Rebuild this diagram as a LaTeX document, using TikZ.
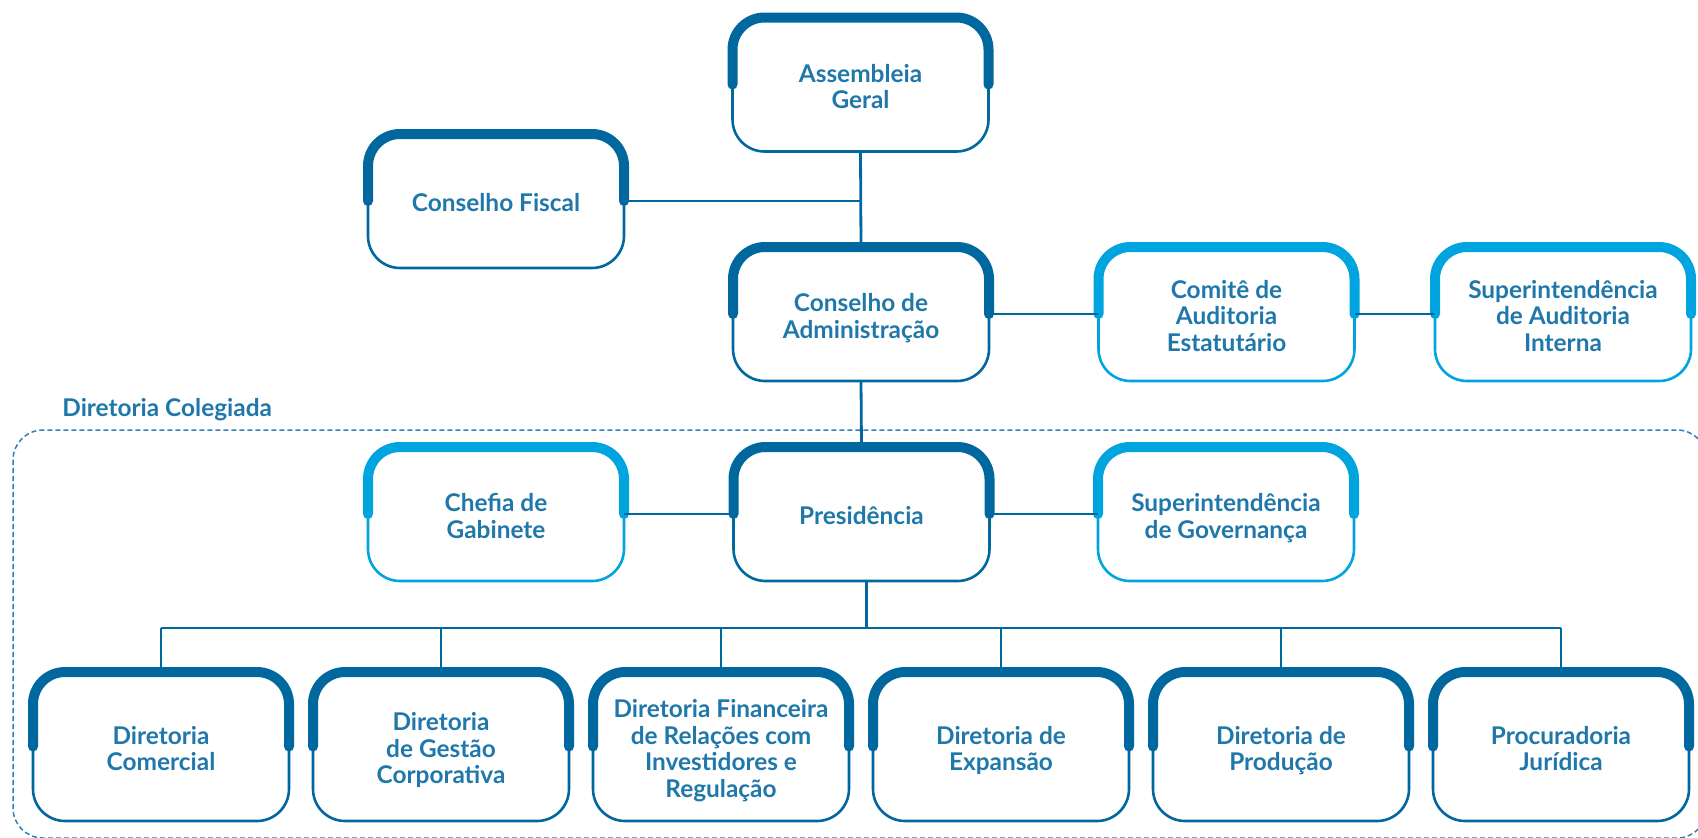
\documentclass[tikz,border=0pt]{standalone}
\usepackage{fontspec}
\setmainfont{Lato}
\usepackage{xcolor}
\usepackage{tikz}
\usetikzlibrary{calc, positioning}

\definecolor{orgdark}{HTML}{00689F}
\definecolor{orglight}{HTML}{00A5DF}
\definecolor{orgtext}{HTML}{1F77AA}
\definecolor{orgdash}{HTML}{2F80B8}

\begin{document}
\begin{tikzpicture}[x=0.5pt, y=-0.5pt,
        every node/.style={font=\fontsize{12.2}{13.3}\selectfont\bfseries, text=orgtext, align=center},
        unit/.style={draw=#1, line width=1.3pt, rounded corners=16pt, minimum width=128pt, minimum height=67pt, inner sep=0pt, outer sep=0pt},
        unit/.default=orgdark,
        tall/.style={minimum height=74.5pt},
        caption/.style={inner sep=0pt, text depth=3pt, yshift=-2.4pt},
        crown/.style={draw=#1, line width=5pt, line cap=round, rounded corners=16pt},
        link/.style={draw=orgdark, line width=1.4pt},
        colegiada/.style={draw=orgdash, line width=0.75pt, dash pattern=on 2.5pt off 1.5pt, rounded corners=15pt}]
        \clip (0,0) rectangle (1698,837);

        \draw[colegiada] (13,430) rectangle (1707,838);
        \node[anchor=base west, inner sep=0pt] (dclabel) at (62,416) {Diretoria Colegiada};

        \node[unit, label={[caption]center:{Assembleia\\Geral}}] (ag) at (860.5,84.5) {};
        \node[unit, label={[caption]center:{Conselho Fiscal}}] (cf) at (496,201) {};
        \node[unit, label={[caption]center:{Conselho de\\Administração}}] (ca) at (861,314) {};
        \node[unit=orglight, label={[caption]center:{Comitê de\\Auditoria\\Estatutário}}] (cae) at (1226.5,314) {};
        \node[unit=orglight, label={[caption]center:{Superintendência\\de Auditoria\\Interna}}] (sai) at (1563,314) {};

        \node[unit=orglight, label={[caption]center:{Chefia de\\Gabinete}}] (cg) at (496,514) {};
        \node[unit, label={[caption]center:{Presidência}}] (pres) at (861.5,514) {};
        \node[unit=orglight, label={[caption]center:{Superintendência\\de Governança}}] (sg) at (1226,514) {};

        \node[unit, tall, label={[caption]center:{Diretoria\\Comercial}}] (dcom) at (161,746.5) {};
        \node[unit, tall, label={[caption]center:{Diretoria\\de Gestão\\Corporativa}}] (dgc) at (441,746.5) {};
        \node[unit, tall, label={[caption]center:{Diretoria Financeira\\de Relações com\\Investidores e\\Regulação}}] (dfin) at (721,746.5) {};
        \node[unit, tall, label={[caption]center:{Diretoria de\\Expansão}}] (dexp) at (1001,746.5) {};
        \node[unit, tall, label={[caption]center:{Diretoria de\\Produção}}] (dprod) at (1281,746.5) {};
        \node[unit, tall, label={[caption]center:{Procuradoria\\Jurídica}}] (pjur) at (1561,746.5) {};

        \foreach \n in {ag,cf,ca,pres,dcom,dgc,dfin,dexp,dprod,pjur} {
            \draw[crown=orgdark] (\n.west) |- (\n.north) -| (\n.east);
        }
        \foreach \n in {cae,sai,cg,sg} {
            \draw[crown=orglight] (\n.west) |- (\n.north) -| (\n.east);
        }

        \draw[link] (ag.south) -- (ca.north);
        \draw[link] (cf.east) -- (cf.east -| ag.south);
        \draw[link] (ca.east) -- (cae.west);
        \draw[link] (cae.east) -- (sai.west);
        \draw[link] (ca.south) -- (pres.north);
        \draw[link] (cg.east) -- (pres.west);
        \draw[link] (pres.east) -- (sg.west);

        \coordinate (bus) at (161,628);
        \draw[link] ([xshift=2.5pt]pres.south) -- ([xshift=2.5pt]pres.south |- bus);
        \draw[link] (dcom.north |- bus) -- (pjur.north |- bus);
        \foreach \n in {dcom,dgc,dfin,dexp,dprod,pjur} {
            \draw[link] (\n.north |- bus) -- (\n.north);
        }
\end{tikzpicture}
\end{document}
